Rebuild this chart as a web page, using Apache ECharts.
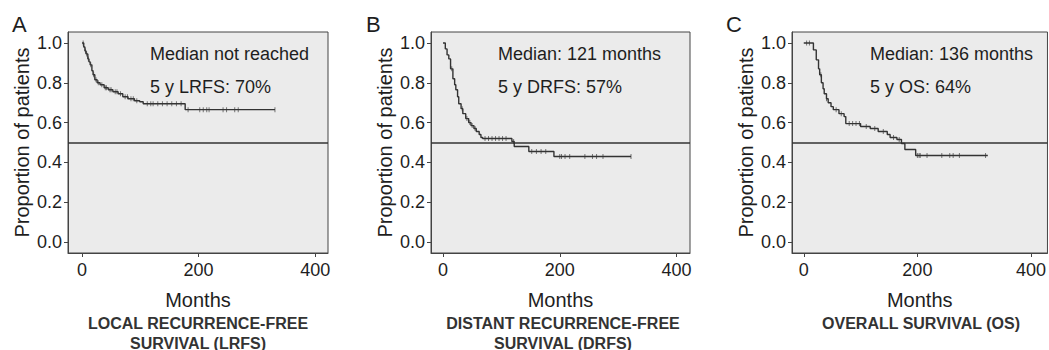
<!DOCTYPE html>
<html>
<head>
<meta charset="utf-8">
<script src="https://cdn.jsdelivr.net/npm/echarts@6/dist/echarts.min.js"></script>
<style>
  html, body { margin: 0; padding: 0; background: #fff; }
  #chart { width: 1049px; height: 350px; }
</style>
</head>
<body>
<div id="chart"></div>
<script>
// Kaplan-Meier steps: [months, proportion]
const lrfsSteps = [
  [0, 1.0], [3, 0.98], [5, 0.96], [7, 0.945], [10, 0.92], [12, 0.905], [14, 0.89],
  [17, 0.86], [19, 0.84], [22, 0.815], [26, 0.80], [31, 0.79], [38, 0.775], [45, 0.765],
  [53, 0.755], [62, 0.745], [70, 0.73], [79, 0.72], [90, 0.71], [99, 0.705], [105, 0.695],
  [177, 0.665], [331, 0.665]
];
const lrfsCensored = [2, 6, 8, 11, 15, 20, 24, 28, 34, 40, 42, 48, 50, 57, 60, 66, 74, 78, 84, 88, 94,
  112, 118, 122, 130, 138, 146, 154, 162, 170, 182, 202, 208, 214, 218, 242, 248, 262, 268, 331];

const drfsSteps = [
  [0, 1.0], [4, 0.97], [7, 0.94], [10, 0.92], [13, 0.87], [17, 0.82], [20, 0.79], [22, 0.765],
  [25, 0.73], [27, 0.695], [31, 0.67], [34, 0.645], [39, 0.62], [44, 0.60], [48, 0.585],
  [53, 0.57], [57, 0.555], [62, 0.54], [65, 0.525], [68, 0.52], [118, 0.505], [122, 0.48],
  [147, 0.455], [190, 0.43], [322, 0.43]
];
const drfsCensored = [15, 33, 41, 46, 50, 55, 72, 78, 84, 90, 96, 102, 108, 121, 152, 160, 168, 176,
  200, 203, 209, 217, 243, 256, 263, 274, 322];

const osSteps = [
  [0, 1.0], [17, 0.965], [22, 0.915], [26, 0.87], [28, 0.84], [31, 0.80], [34, 0.77],
  [36, 0.745], [40, 0.72], [43, 0.70], [48, 0.68], [52, 0.665], [62, 0.645], [71, 0.63],
  [74, 0.595], [100, 0.58], [117, 0.57], [131, 0.555], [147, 0.54], [152, 0.525],
  [164, 0.515], [172, 0.495], [178, 0.465], [197, 0.435], [324, 0.435]
];
const osCensored = [5, 10, 30, 40, 57, 66, 80, 86, 92, 98, 110, 125, 140, 158, 168,
  200, 203, 205, 217, 243, 257, 263, 274, 320];

const yTicks = [0, 0.2, 0.4, 0.6, 0.8, 1.0];
const xTicks = [0, 200, 400];
const medianLevel = 0.5;

const FONT = '"Liberation Sans", Arial, sans-serif';
const INK = '#1e1e1e';
const LINE = '#444';

const panels = [
  { letter: 'A', steps: lrfsSteps, censored: lrfsCensored,
    notes: ['Median not reached', '5 y LRFS: 70%'],
    caption: ['LOCAL RECURRENCE-FREE', 'SURVIVAL (LRFS)'],
    left: 68, width: 260, xMin: -24, xMax: 422, letterX: 12, noteX: 150, capX: 198 },
  { letter: 'B', steps: drfsSteps, censored: drfsCensored,
    notes: ['Median: 121 months', '5 y DRFS: 57%'],
    caption: ['DISTANT RECURRENCE-FREE', 'SURVIVAL (DRFS)'],
    left: 431, width: 259, xMin: -20.5, xMax: 423, letterX: 366, noteX: 498, capX: 563 },
  { letter: 'C', steps: osSteps, censored: osCensored,
    notes: ['Median: 136 months', '5 y OS: 64%'],
    caption: ['OVERALL SURVIVAL (OS)'],
    left: 792, width: 262, xMin: -20.7, xMax: 429, letterX: 726, noteX: 870, capX: 921 }
];

function survivalAt(steps, t) {
  let s = steps[0][1];
  for (const [m, v] of steps) if (m <= t) s = v;
  return s;
}

const grid = [], xAxis = [], yAxis = [], series = [], graphic = [];

panels.forEach((p, i) => {
  grid.push({
    left: p.left, top: 32, width: p.width, height: 221,
    show: true, backgroundColor: '#ebebeb', borderColor: LINE, borderWidth: 1
  });
  xAxis.push({
    gridIndex: i, type: 'value', min: p.xMin, max: p.xMax,
    name: 'Months', nameLocation: 'middle', nameGap: 37,
    nameTextStyle: { fontFamily: FONT, fontSize: 20, color: INK },
    axisLine: { show: true, onZero: false, lineStyle: { color: LINE } },
    axisTick: { show: true, length: 4, customValues: xTicks, lineStyle: { color: LINE } },
    axisLabel: { customValues: xTicks, fontFamily: FONT, fontSize: 18, color: INK, margin: 8 },
    splitLine: { show: false }
  });
  yAxis.push({
    gridIndex: i, type: 'value', min: -0.055, max: 1.055,
    name: 'Proportion of patients', nameLocation: 'middle', nameRotate: 90, nameGap: 36,
    nameTextStyle: { fontFamily: FONT, fontSize: 20, color: INK },
    axisLine: { show: true, onZero: false, lineStyle: { color: LINE } },
    axisTick: { show: true, length: 4, customValues: yTicks, lineStyle: { color: LINE } },
    axisLabel: { customValues: yTicks, formatter: v => v.toFixed(1),
      fontFamily: FONT, fontSize: 18, color: INK, margin: 6 },
    splitLine: { show: false }
  });
  series.push({
    type: 'line', xAxisIndex: i, yAxisIndex: i, step: 'end',
    data: p.steps, showSymbol: false, silent: true,
    lineStyle: { color: '#333', width: 1.4 },
    markLine: {
      silent: true, symbol: 'none', label: { show: false },
      lineStyle: { color: '#333', width: 1.5, type: 'solid' },
      data: [{ yAxis: medianLevel }]
    }
  });
  series.push({
    type: 'scatter', xAxisIndex: i, yAxisIndex: i, silent: true,
    data: p.censored.map(t => [t, survivalAt(p.steps, t)]),
    symbol: 'rect', symbolSize: [1, 5],
    itemStyle: { color: '#555' }
  });

  const txt = (text, x, y, size, extra) => ({
    type: 'text', x, y, silent: true,
    style: Object.assign({ text, font: `${size}px ${FONT}`, fill: INK,
      textAlign: 'left', align: 'left', textVerticalAlign: 'middle', verticalAlign: 'middle' }, extra || {})
  });
  graphic.push(txt(p.letter, p.letterX, 24, 22));
  graphic.push(txt(p.notes[0], p.noteX, 54, 18));
  graphic.push(txt(p.notes[1], p.noteX, 87, 18));
  p.caption.forEach((line, k) => {
    graphic.push(txt(line, p.capX, 323 + k * 20, 16, {
      font: `bold 16px ${FONT}`, fill: '#333',
      textAlign: 'center', align: 'center'
    }));
  });
});

const chart = echarts.init(document.getElementById('chart'), null, { renderer: 'svg' });
chart.setOption({
  animation: false,
  backgroundColor: '#fff',
  grid, xAxis, yAxis, series, graphic
});
</script>
</body>
</html>
